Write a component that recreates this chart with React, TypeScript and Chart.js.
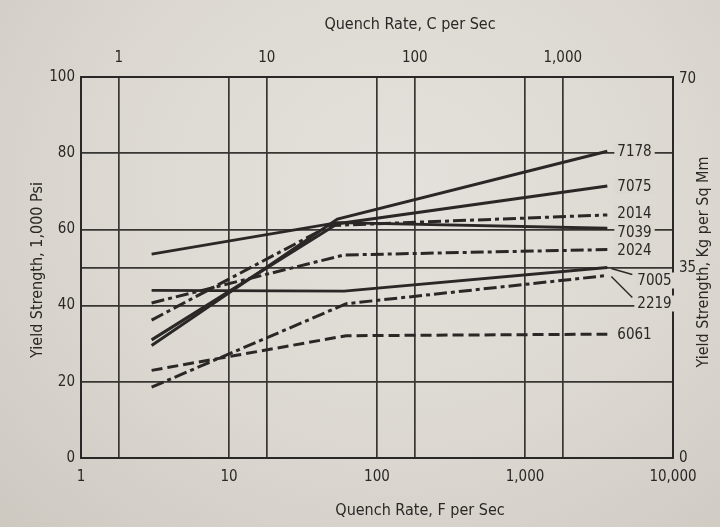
import React, { useEffect, useRef } from "react";
import { Chart, registerables } from "chart.js";

Chart.register(...registerables);

// Alloys and their yield strength (1,000 psi) at three quench rates (F per sec)
const alloys = ["7178", "7075", "2014", "7039", "2024", "7005", "2219", "6061"];
const startRate = 3;
const kinkRates = [54, 54, 48, 54, 60, 60, 62, 62];
const endRate = 3600;
const startYield = [29.5, 31, 36.2, 53.5, 40.7, 44, 18.6, 23];
const kinkYield = [62.7, 61.5, 61, 61.8, 53.3, 43.8, 40.5, 32.1];
const endYield = [80.5, 71.4, 63.8, 60.3, 54.7, 50, 47.9, 32.5];
const lineKinds = ["solid", "solid", "dashdot", "solid", "dashdot", "solid", "dashdot", "dashed"];
const lineWidths = [3, 3, 3, 2.8, 3, 2.8, 3, 3];

// Axis ticks
const fTicks = [1, 10, 100, 1000, 10000];
const fTickLabels = ["1", "10", "100", "1,000", "10,000"];
const cTicks = [1, 10, 100, 1000];
const cTickLabels = ["1", "10", "100", "1,000"];
const psiTicks = [0, 20, 40, 60, 80, 100];
const kgTicks = [0, 35, 70];

const F_PER_C = 1.8;
const KSI_PER_KG_MM2 = 1.42233;

const INK = "#2a2826";
const GRID = "#383633";
const PAPER = "#dcd8d1";
const FONT = "'Liberation Sans Narrow', 'DejaVu Sans Condensed', 'Roboto', sans-serif";

const dashFor = (kind: string): number[] =>
  kind === "dashdot" ? [13, 4, 4, 4] : kind === "dashed" ? [11, 5] : [];

const labelsPlugin = {
  id: "alloyLabels",
  afterDatasetsDraw(chart: any) {
    const { ctx, scales } = chart;
    const xs = scales.x;
    const ys = scales.y;
    ctx.save();
    ctx.font = `15px ${FONT}`;
    ctx.textBaseline = "middle";
    ctx.textAlign = "left";
    alloys.forEach((name, i) => {
      const px = xs.getPixelForValue(endRate);
      const py = ys.getPixelForValue(endYield[i]);
      let dx = 10;
      let dy = 0;
      let leader = false;
      if (name === "7005") { dx = 30; dy = 13; leader = true; }
      if (name === "2219") { dx = 30; dy = 28; leader = true; }
      if (name === "2014") dy = -2;
      if (name === "7039") dy = 4;
      if (name === "2024") dy = 1;
      const tx = px + dx;
      const ty = py + dy;
      const w = ctx.measureText(name).width;
      ctx.fillStyle = PAPER;
      ctx.fillRect(tx - 3, ty - 8, w + 6, 16);
      ctx.fillStyle = INK;
      ctx.fillText(name, tx, ty + 1);
      if (leader) {
        ctx.strokeStyle = INK;
        ctx.lineWidth = 1.4;
        ctx.beginPath();
        ctx.moveTo(tx - 5, ty - 6);
        ctx.lineTo(px + 4, py + 1);
        ctx.stroke();
      }
    });
    ctx.restore();
  },
  afterDraw(chart: any) {
    const { ctx } = chart;
    ctx.save();
    ctx.fillStyle = INK;
    ctx.font = `16px ${FONT}`;
    ctx.textAlign = "center";
    ctx.textBaseline = "middle";
    ctx.fillText("Quench Rate, F per Sec", 420, 511);
    ctx.fillText("Quench Rate, C per Sec", 410, 25);
    ctx.save();
    ctx.translate(38, 270);
    ctx.rotate(-Math.PI / 2);
    ctx.fillText("Yield Strength, 1,000 Psi", 0, 0);
    ctx.restore();
    ctx.save();
    ctx.translate(704, 262);
    ctx.rotate(-Math.PI / 2);
    ctx.fillText("Yield Strength, Kg per Sq Mm", 0, 0);
    ctx.restore();
    ctx.restore();
  },
};

export default function App() {
  const canvasRef = useRef<HTMLCanvasElement | null>(null);

  useEffect(() => {
    const canvas = canvasRef.current;
    if (!canvas) return;

    const datasets = alloys.map((name, i) => ({
      label: name,
      data: [
        { x: startRate, y: startYield[i] },
        { x: kinkRates[i], y: kinkYield[i] },
        { x: endRate, y: endYield[i] },
      ],
      borderColor: INK,
      borderWidth: lineWidths[i],
      borderDash: dashFor(lineKinds[i]),
      borderCapStyle: "butt" as const,
      pointRadius: 0,
      fill: false,
      tension: 0,
      xAxisID: "x",
      yAxisID: "y",
    }));

    const tickFont = { family: FONT, size: 15 };

    const chart = new Chart(canvas, {
      type: "line",
      data: { datasets },
      plugins: [labelsPlugin],
      options: {
        animation: false,
        responsive: false,
        devicePixelRatio: 1,
        layout: { padding: 0 },
        plugins: { legend: { display: false }, tooltip: { enabled: false }, title: { display: false } },
        scales: {
          x: {
            type: "logarithmic",
            position: "bottom",
            min: 1,
            max: 10000,
            afterBuildTicks: (s: any) => {
              const vals = [...fTicks, ...cTicks.map((c) => c * F_PER_C)].sort((a, b) => a - b);
              s.ticks = vals.map((v) => ({ value: v }));
            },
            afterFit: (s: any) => { s.height = 69; },
            ticks: {
              autoSkip: false,
              maxRotation: 0,
              padding: 10,
              color: INK,
              font: tickFont,
              callback: (v: any) => {
                const i = fTicks.indexOf(Number(v));
                return i >= 0 ? fTickLabels[i] : "";
              },
            },
            grid: { color: GRID, lineWidth: 1.7, drawTicks: false },
            border: { color: INK, width: 2 },
          },
          x2: {
            type: "logarithmic",
            position: "top",
            min: 1,
            max: 10000,
            afterBuildTicks: (s: any) => {
              s.ticks = cTicks.map((c) => ({ value: c * F_PER_C }));
            },
            afterFit: (s: any) => { s.height = 77; },
            ticks: {
              autoSkip: false,
              maxRotation: 0,
              padding: 10,
              color: INK,
              font: tickFont,
              callback: (_v: any, i: number) => cTickLabels[i],
            },
            grid: { display: false, drawTicks: false },
            border: { color: INK, width: 2 },
          },
          y: {
            type: "linear",
            position: "left",
            min: 0,
            max: 100,
            afterBuildTicks: (s: any) => {
              s.ticks = psiTicks.map((v) => ({ value: v }));
            },
            afterFit: (s: any) => { s.width = 81; },
            ticks: { padding: 6, color: INK, font: tickFont },
            grid: { color: GRID, lineWidth: 1.7, drawTicks: false },
            border: { color: INK, width: 2 },
          },
          y2: {
            type: "linear",
            position: "right",
            min: 0,
            max: 100 / KSI_PER_KG_MM2,
            afterBuildTicks: (s: any) => {
              s.ticks = kgTicks.map((v) => ({ value: v }));
            },
            afterFit: (s: any) => { s.width = 47; },
            ticks: { padding: 6, color: INK, font: tickFont },
            grid: {
              drawTicks: false,
              lineWidth: 1.7,
              color: (c: any) => (c.tick && c.tick.value === 35 ? GRID : "rgba(0,0,0,0)"),
            },
            border: { color: INK, width: 2 },
          },
        },
      } as any,
    });

    return () => chart.destroy();
  }, []);

  return (
    <div
      style={{
        position: "fixed",
        left: 0,
        top: 0,
        width: 720,
        height: 527,
        background:
          "radial-gradient(ellipse at 55% 35%, #e4e1dc 0%, #dcd8d1 55%, #cdc8c0 100%)",
      }}
    >
      <canvas ref={canvasRef} width={720} height={527} style={{ display: "block" }} />
    </div>
  );
}
